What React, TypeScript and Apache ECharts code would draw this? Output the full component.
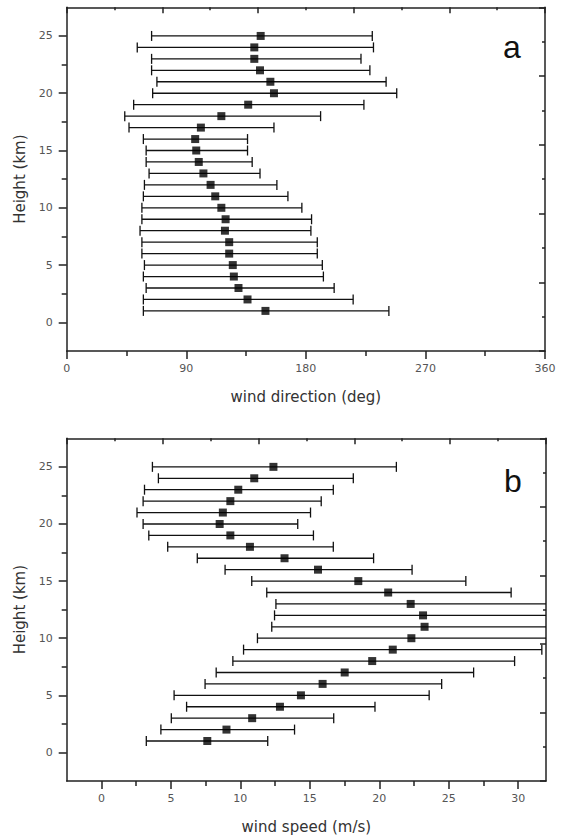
import React, { useEffect, useRef } from "react";
import * as echarts from "echarts";

// Heights (km) of each measurement level
const heights = [1, 2, 3, 4, 5, 6, 7, 8, 9, 10, 11, 12, 13, 14, 15, 16, 17, 18, 19, 20, 21, 22, 23, 24, 25];

// Panel a: wind direction (deg)
const dirCenter = [149.6, 136.1, 129.3, 125.8, 125.0, 122.3, 122.3, 119.1, 119.6, 116.4, 111.8, 108.3, 102.9, 99.4, 97.5, 96.7, 101.0, 116.4, 136.6, 156.0, 153.3, 145.5, 141.2, 141.2, 146.0];
const dirLow = [57.7, 57.7, 59.8, 57.7, 58.5, 56.6, 56.6, 55.2, 56.6, 56.6, 57.7, 58.5, 62.0, 59.8, 59.8, 57.7, 46.9, 43.7, 50.4, 64.7, 67.9, 63.9, 63.9, 53.1, 63.9];
const dirHigh = [242.5, 215.6, 201.3, 193.2, 192.4, 188.6, 188.6, 183.8, 184.3, 177.0, 166.5, 158.2, 145.5, 139.6, 136.1, 136.1, 156.0, 191.1, 223.7, 248.4, 240.4, 228.2, 221.5, 230.9, 230.0];

// Panel b: wind speed (m/s)
const spdCenter = [7.62, 9.0, 10.85, 12.85, 14.36, 15.92, 17.51, 19.49, 20.97, 22.31, 23.26, 23.15, 22.26, 20.64, 18.49, 15.59, 13.18, 10.69, 9.28, 8.51, 8.74, 9.28, 9.85, 11.0, 12.38];
const spdLow = [3.23, 4.28, 5.03, 6.13, 5.23, 7.46, 8.26, 9.46, 10.23, 11.23, 12.26, 12.46, 12.56, 11.9, 10.82, 8.9, 6.9, 4.77, 3.41, 3.0, 2.56, 3.0, 3.1, 4.1, 3.67];
const spdHigh = [11.97, 13.9, 16.72, 19.69, 23.59, 24.49, 26.79, 29.74, 31.7, 33.4, 34.3, 33.8, 32.3, 29.49, 26.23, 22.36, 19.59, 16.69, 15.26, 14.13, 15.05, 15.82, 16.69, 18.13, 21.23];

// Tick values
const heightTicks = [0, 5, 10, 15, 20, 25];
const heightMinor = [2.5, 7.5, 12.5, 17.5, 22.5];
const speedTicks = [0, 5, 10, 15, 20, 25, 30];
const speedMinor = [2.5, 7.5, 12.5, 17.5, 22.5, 27.5];

const FONT = "DejaVu Sans";
const LINE = "#222";
const LABEL = "#555";

function errRender(params: any, api: any) {
  const lo = api.value(0);
  const hi = api.value(1);
  const h = api.value(2);
  const p1 = api.coord([lo, h]);
  const p2 = api.coord([hi, h]);
  const cs = params.coordSys;
  const right = cs.x + cs.width;
  const clipped = p2[0] > right + 0.5;
  const x2 = Math.min(p2[0], right);
  const capH = 10;
  const style = { stroke: "#111", lineWidth: 1.3, fill: null };
  const children: any[] = [
    { type: "line", shape: { x1: p1[0], y1: p1[1], x2: x2, y2: p2[1] }, style },
    { type: "line", shape: { x1: p1[0], y1: p1[1] - capH / 2, x2: p1[0], y2: p1[1] + capH / 2 }, style },
  ];
  if (!clipped) {
    children.push({ type: "line", shape: { x1: p2[0], y1: p2[1] - capH / 2, x2: p2[0], y2: p2[1] + capH / 2 }, style });
  }
  return { type: "group", children };
}

const axisLineStyle = { show: true, onZero: false, lineStyle: { color: LINE, width: 1.5 } };

function mainX(grid: number, min: number, max: number, name: string, extra: any) {
  return {
    type: "value",
    gridIndex: grid,
    position: "bottom",
    min,
    max,
    name,
    nameLocation: "middle",
    nameGap: 38,
    nameTextStyle: { fontFamily: FONT, fontSize: 15, color: "#333" },
    axisLine: axisLineStyle,
    splitLine: { show: false },
    axisLabel: { fontFamily: FONT, fontSize: 11, color: LABEL, margin: 12 },
    axisTick: { show: true, inside: false, length: 8, lineStyle: { color: LINE, width: 1.5 } },
    ...extra,
  };
}

function topX(grid: number) {
  return {
    type: "value",
    gridIndex: grid,
    position: "top",
    min: 0,
    max: 10,
    interval: 2,
    axisLine: axisLineStyle,
    splitLine: { show: false },
    axisLabel: { show: false },
    axisTick: { show: true, inside: true, length: 6, lineStyle: { color: LINE, width: 1.5 } },
    minorTick: { show: true, splitNumber: 2, length: 3, lineStyle: { color: LINE, width: 1.5 } },
    minorSplitLine: { show: false },
  };
}

function rightY(grid: number) {
  return {
    type: "value",
    gridIndex: grid,
    position: "right",
    min: 0,
    max: 10,
    interval: 2,
    axisLine: axisLineStyle,
    splitLine: { show: false },
    axisLabel: { show: false },
    axisTick: { show: true, inside: true, length: 6, lineStyle: { color: LINE, width: 1.5 } },
    minorTick: { show: true, splitNumber: 2, length: 3, lineStyle: { color: LINE, width: 1.5 } },
  };
}

function leftY(grid: number) {
  return {
    type: "value",
    gridIndex: grid,
    position: "left",
    min: -2.5,
    max: 27.5,
    name: "Height (km)",
    nameLocation: "middle",
    nameGap: 38,
    nameTextStyle: { fontFamily: FONT, fontSize: 15, color: "#333" },
    axisLine: axisLineStyle,
    splitLine: { show: false },
    axisLabel: { fontFamily: FONT, fontSize: 11, color: LABEL, margin: 14, customValues: heightTicks },
    axisTick: { show: true, inside: false, length: 8, customValues: heightTicks, lineStyle: { color: LINE, width: 1.5 } },
  };
}

function leftYMinor(grid: number) {
  return {
    type: "value",
    gridIndex: grid,
    position: "left",
    min: -2.5,
    max: 27.5,
    axisLine: { show: false, onZero: false },
    splitLine: { show: false },
    axisLabel: { show: false },
    axisTick: { show: true, inside: false, length: 5, customValues: heightMinor, lineStyle: { color: LINE, width: 1.5 } },
  };
}

export default function App() {
  const ref = useRef<HTMLDivElement>(null);

  useEffect(() => {
    if (!ref.current) return;
    const chart = echarts.init(ref.current, null, { renderer: "svg" });

    const option: any = {
      animation: false,
      backgroundColor: "#fff",
      grid: [
        { left: 66.7, top: 7.3, width: 478.3, height: 343.7 },
        { left: 66.7, top: 438.3, width: 479.3, height: 342.7 },
      ],
      xAxis: [
        mainX(0, 0, 360, "wind direction (deg)", {
          interval: 90,
          minorTick: { show: true, splitNumber: 2, length: 5, lineStyle: { color: LINE, width: 1.5 } },
          minorSplitLine: { show: false },
        }),
        topX(0),
        mainX(1, -2.5, 32, "wind speed (m/s)", {
          axisLabel: { fontFamily: FONT, fontSize: 11, color: LABEL, margin: 12, customValues: speedTicks },
          axisTick: { show: true, inside: false, length: 8, customValues: speedTicks, lineStyle: { color: LINE, width: 1.5 } },
        }),
        topX(1),
        {
          type: "value",
          gridIndex: 1,
          position: "bottom",
          min: -2.5,
          max: 32,
          axisLine: { show: false, onZero: false },
          splitLine: { show: false },
          axisLabel: { show: false },
          axisTick: { show: true, inside: false, length: 5, customValues: speedMinor, lineStyle: { color: LINE, width: 1.5 } },
        },
      ],
      yAxis: [leftY(0), rightY(0), leftYMinor(0), leftY(1), rightY(1), leftYMinor(1)],
      series: [
        {
          type: "custom",
          xAxisIndex: 0,
          yAxisIndex: 0,
          renderItem: errRender,
          encode: { x: [0, 1], y: 2 },
          data: heights.map((h, i) => [dirLow[i], dirHigh[i], h]),
          z: 2,
        },
        {
          type: "scatter",
          xAxisIndex: 0,
          yAxisIndex: 0,
          symbol: "rect",
          symbolSize: 8,
          itemStyle: { color: "#000" },
          data: heights.map((h, i) => [dirCenter[i], h]),
          z: 3,
        },
        {
          type: "custom",
          xAxisIndex: 2,
          yAxisIndex: 3,
          renderItem: errRender,
          encode: { x: [0, 1], y: 2 },
          data: heights.map((h, i) => [spdLow[i], spdHigh[i], h]),
          z: 2,
        },
        {
          type: "scatter",
          xAxisIndex: 2,
          yAxisIndex: 3,
          symbol: "rect",
          symbolSize: 8,
          itemStyle: { color: "#000" },
          data: heights.map((h, i) => [spdCenter[i], h]),
          z: 3,
        },
      ],
      graphic: [
        {
          type: "text",
          x: 512,
          y: 47,
          style: { text: "a", fontFamily: "Liberation Sans", fontSize: 32, fill: "#111", align: "center", verticalAlign: "middle" },
        },
        {
          type: "text",
          x: 513,
          y: 481,
          style: { text: "b", fontFamily: "Liberation Sans", fontSize: 32, fill: "#111", align: "center", verticalAlign: "middle" },
        },
      ],
    };

    chart.setOption(option);
    return () => chart.dispose();
  }, []);

  return (
    <div
      ref={ref}
      style={{ position: "fixed", left: 0, top: 0, width: 561, height: 835, background: "#fff" }}
    />
  );
}
